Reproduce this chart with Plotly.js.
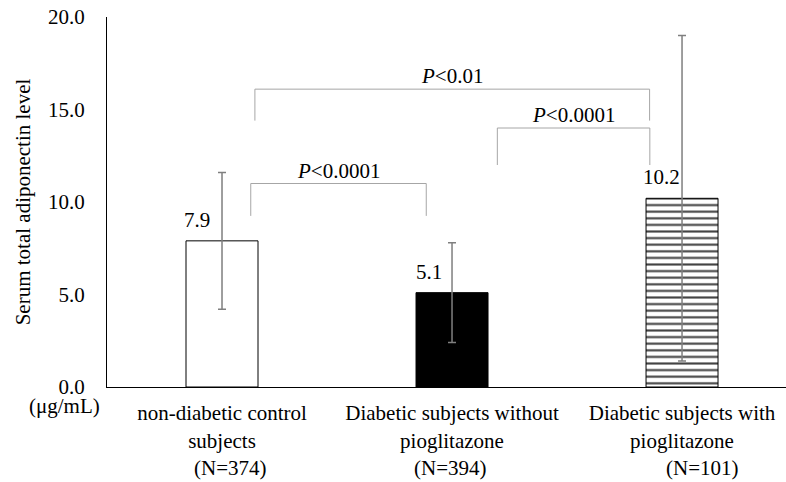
<!DOCTYPE html>
<html>
<head>
<meta charset="utf-8">
<script src="https://cdn.plot.ly/plotly-3.0.1.min.js"></script>
<style>html,body{margin:0;padding:0;background:#fff;}#chart{width:786px;height:482px;}</style>
</head>
<body>
<div id="chart"></div>
<script>
const categories = ["non-diabetic control", "Diabetic subjects without", "Diabetic subjects with"];
const tickLabels = ["non-diabetic control<br>subjects", "Diabetic subjects without<br>pioglitazone", "Diabetic subjects with<br>pioglitazone"];
const nLabels = ["(N=374)", "(N=394)", "(N=101)"];
const means = [7.9, 5.1, 10.2];
const sds = [3.7, 2.7, 8.8];
const valueLabels = ["7.9", "5.1", "10.2"];
const barColors = ["#ffffff", "#000000", "#ffffff"];
const barPatterns = ["", "", "-"];
// comparisons: from index, to index, label
const compFrom = [0, 1, 0];
const compTo = [1, 2, 2];
const compLabels = ["<i>P</i>&lt;0.0001", "<i>P</i>&lt;0.0001", "<i>P</i>&lt;0.01"];
const compLow = [9.25, 12.0, 14.4];
const compHigh = [11.0, 14.0, 16.1];

const FONT = "Liberation Serif";
const FS = 21;
const xs = categories.map((c, i) => i);

const trace = {
  type: "bar",
  x: xs,
  y: means,
  width: 0.313,
  marker: {
    color: barColors,
    line: {color: "#000", width: 1},
    pattern: {shape: barPatterns, fgcolor: "#000", fgopacity: 1, size: 6.6, solidity: 0.32, fillmode: "overlay"}
  },
  error_y: {type: "data", array: sds, visible: true, color: "#7f7f7f", thickness: 1.5, width: 4},
  hoverinfo: "none"
};

const shapes = [];
const annotations = [];
const leftOff = [0.125, 0.197, 0.143];
const rightOff = [-0.112, -0.14, -0.141];
for (let k = 0; k < compFrom.length; k++) {
  const x0 = compFrom[k] + leftOff[k];
  const x1 = compTo[k] + rightOff[k];
  shapes.push({type: "path", xref: "x", yref: "y",
    path: `M${x0},${compLow[k]} L${x0},${compHigh[k]} L${x1},${compHigh[k]} L${x1},${compLow[k]}`,
    line: {color: "#a6a6a6", width: 1}});
  annotations.push({x: (x0 + x1) / 2, y: compHigh[k], xref: "x", yref: "y", text: compLabels[k],
    showarrow: false, yanchor: "bottom", yshift: -1, font: {family: FONT, size: FS, color: "#000"}});
}
const labelOff = [-0.107, -0.098, -0.09];
for (let i = 0; i < means.length; i++) {
  annotations.push({x: xs[i] + labelOff[i], y: means[i], xref: "x", yref: "y", text: valueLabels[i],
    showarrow: false, yanchor: "bottom", yshift: 7, font: {family: FONT, size: FS, color: "#000"}});
}
const nOff = [0.037, -0.008, 0.087];
for (let i = 0; i < nLabels.length; i++) {
  annotations.push({x: xs[i] + nOff[i], y: -0.219, xref: "x", yref: "paper", text: nLabels[i],
    showarrow: false, yanchor: "middle", font: {family: FONT, size: FS, color: "#000"}});
}
annotations.push({x: -0.0633, y: -0.0525, xref: "paper", yref: "paper", text: "(μg/mL)",
  showarrow: false, xanchor: "center", yanchor: "middle", font: {family: FONT, size: FS, color: "#000"}});

const layout = {
  width: 786, height: 482,
  margin: {l: 107, r: 0, t: 17, b: 95},
  paper_bgcolor: "#fff", plot_bgcolor: "#fff",
  showlegend: false,
  font: {family: FONT, size: FS, color: "#000"},
  xaxis: {
    range: [-0.5, 2.452], tickmode: "array", tickvals: xs, ticktext: tickLabels,
    showline: true, linecolor: "#000", linewidth: 1, showgrid: false, zeroline: false,
    ticks: "", ticklabelstandoff: 7, tickfont: {family: FONT, size: FS, color: "#000"}, fixedrange: true
  },
  yaxis: {
    range: [0, 20], tickvals: [0, 5, 10, 15, 20], ticktext: ["0.0", "5.0", "10.0", "15.0", "20.0"],
    showline: true, linecolor: "#000", linewidth: 1, showgrid: false, zeroline: false,
    ticks: "", ticklabelstandoff: 17, tickfont: {family: FONT, size: FS, color: "#000"},
    title: {text: "Serum total adiponectin level", font: {family: FONT, size: FS, color: "#000"}, standoff: 11},
    automargin: false
  },
  shapes: shapes,
  annotations: annotations
};

Plotly.newPlot("chart", [trace], layout, {displayModeBar: false, staticPlot: true});
</script>
</body>
</html>
